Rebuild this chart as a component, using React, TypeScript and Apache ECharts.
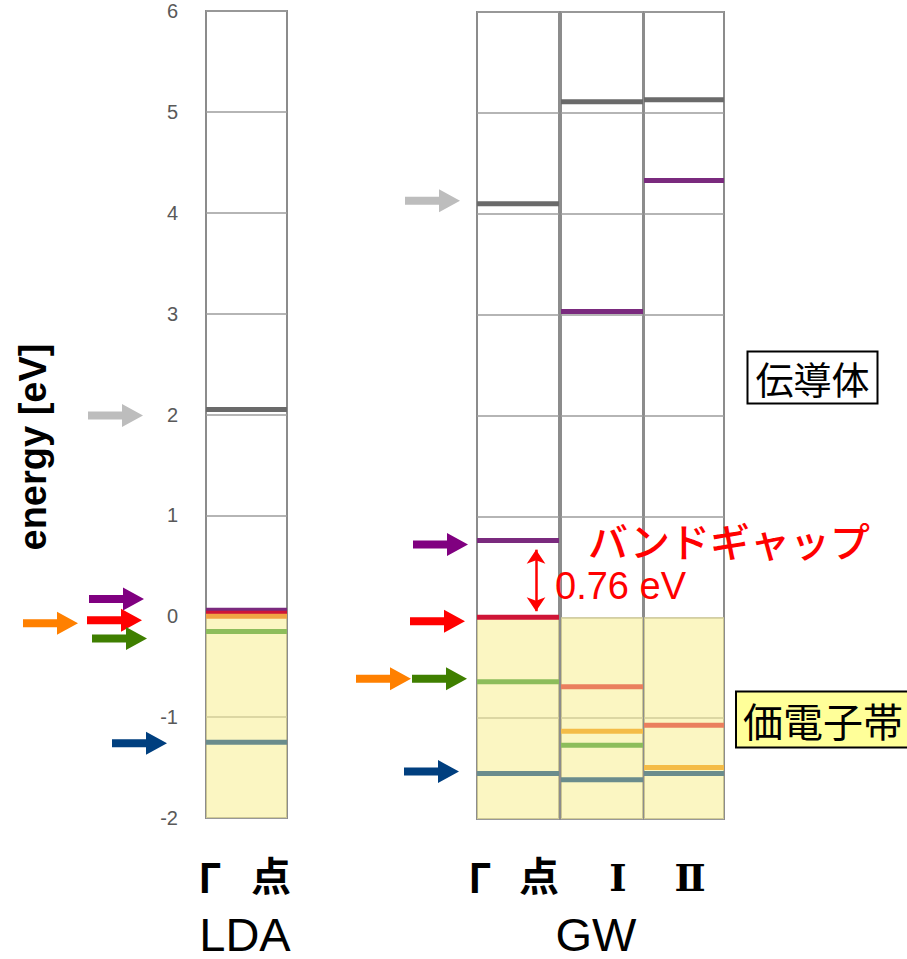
import React, { useEffect, useRef } from "react";
import * as echarts from "echarts";

// Energy axis (eV)
const ENERGY_MIN = -2;
const ENERGY_MAX = 6;
const ENERGY_STEP = 1;

// Levels at each k-point, energies in eV, with the band each belongs to
const ldaGammaEnergies = [2.05, 0.06, 0.03, 0.0, -0.15, -1.25];
const ldaGammaBands = ["gray", "purple", "red", "orange", "green", "slate"];

const gwGammaEnergies = [4.1, 0.76, 0.0, -0.64, -1.55];
const gwGammaBands = ["gray", "purple", "red", "green", "slate"];

const gwIEnergies = [5.11, 3.03, -0.69, -1.13, -1.27, -1.61];
const gwIBands = ["gray", "purple", "salmon", "amber", "green", "slate"];

const gwIIEnergies = [5.13, 4.33, -1.07, -1.49, -1.55];
const gwIIBands = ["gray", "purple", "salmon", "amber", "slate"];

// Valence band region
const valenceTop = 0;

// Pointer arrows: energy they sit at and band they mark
const ldaArrowEnergies = [1.99, 0.17, -0.04, -0.07, -0.22, -1.26];
const ldaArrowBands = ["gray", "purple", "red", "orange", "green", "slate"];
const gwArrowEnergies = [4.13, 0.72, -0.04, -0.61, -0.61, -1.53];
const gwArrowBands = ["gray", "purple", "red", "orange", "green", "slate"];

// Labels
const gammaSymbol = "Γ";
const pointSuffix = "点";
const pointNumerals = ["Ⅰ", "Ⅱ"];
const methodLabels = ["LDA", "GW"];
const gapTitle = "バンドギャップ";
const conductionLabel = "伝導体";
const valenceLabel = "価電子帯";
const axisTitle = "energy [eV]";

// ---- styling / layout ----
const LEVEL_COLORS: Record<string, string> = {
  gray: "#6a6a6a",
  purple: "#7a2a7e",
  red: "#cf1537",
  orange: "#f0a444",
  green: "#8dbd5b",
  slate: "#6a8c8c",
  salmon: "#ea7f5e",
  amber: "#f4bc47",
};
const ARROW_COLORS: Record<string, string> = {
  gray: "#bdbdbd",
  purple: "#800080",
  red: "#ff0000",
  orange: "#ff8000",
  green: "#3f7f00",
  slate: "#003f7f",
};
const ldaArrowTips = [143, 144, 142, 78, 147, 167];
const gwArrowTips = [460, 468, 465, 411, 467, 459];

const GRIDS = [
  { left: 206, top: 11, width: 81, height: 807 },
  { left: 477, top: 12, width: 82, height: 807 },
  { left: 561, top: 12, width: 82, height: 807 },
  { left: 644, top: 12, width: 80, height: 807 },
];

const CJK = '"Noto Sans CJK JP", sans-serif';
const LATIN = '"Liberation Sans", Arial, sans-serif';

function arrowPoints(tipX: number, y: number): number[][] {
  const len = 55;
  const head = 21;
  const headHalf = 11.5;
  const shaftHalf = 4;
  return [
    [tipX - len, y - shaftHalf],
    [tipX - head, y - shaftHalf],
    [tipX - head, y - headHalf],
    [tipX, y],
    [tipX - head, y + headHalf],
    [tipX - head, y + shaftHalf],
    [tipX - len, y + shaftHalf],
  ];
}

function levelSeries(gridIndex: number, energies: number[], bands: string[], extra: any = {}) {
  return {
    type: "custom",
    xAxisIndex: gridIndex,
    yAxisIndex: gridIndex,
    z: 3,
    data: energies.map((e) => [0.5, e]),
    renderItem: (params: any, api: any) => {
      const e = api.value(1);
      const p0 = api.coord([0, e]);
      const p1 = api.coord([1, e]);
      return {
        type: "line",
        shape: { x1: p0[0], y1: p0[1], x2: p1[0], y2: p1[1] },
        style: { stroke: LEVEL_COLORS[bands[params.dataIndex]], lineWidth: 5 },
      };
    },
    markArea: {
      silent: true,
      itemStyle: { color: "rgba(248,240,150,0.58)" },
      data: [[{ yAxis: valenceTop }, { yAxis: ENERGY_MIN }]],
    },
    ...extra,
  };
}

export default function App() {
  const ref = useRef<HTMLDivElement>(null);

  useEffect(() => {
    if (!ref.current) return;
    const chart = echarts.init(ref.current, null, { renderer: "svg" });

    const gap = gwGammaEnergies[1] - gwGammaEnergies[2];

    const option: any = {
      animation: false,
      backgroundColor: "#ffffff",
      grid: GRIDS.map((g) => ({
        ...g,
        show: true,
        borderColor: "#8c8c8c",
        borderWidth: 2,
        backgroundColor: "transparent",
      })),
      xAxis: GRIDS.map((_, i) => ({
        type: "value",
        gridIndex: i,
        min: 0,
        max: 1,
        show: false,
      })),
      yAxis: GRIDS.map((_, i) => ({
        type: "value",
        gridIndex: i,
        min: ENERGY_MIN,
        max: ENERGY_MAX,
        interval: ENERGY_STEP,
        axisLine: { show: false },
        axisTick: { show: false },
        axisLabel: {
          show: i === 0,
          color: "#595959",
          fontSize: 20,
          fontFamily: LATIN,
          margin: 28,
          padding: [6, 0, 0, 0],
        },
        splitLine: { show: true, lineStyle: { color: "#9c9c9c", width: 1.5 } },
      })),
      series: [
        levelSeries(0, ldaGammaEnergies, ldaGammaBands),
        levelSeries(1, gwGammaEnergies, gwGammaBands, {
          markLine: {
            silent: true,
            symbol: ["arrow", "arrow"],
            symbolSize: [14, 14],
            label: { show: false },
            lineStyle: { color: "#ff0000", width: 2.5, type: "solid" },
            data: [
              [
                { coord: [0.72, gwGammaEnergies[2] + 0.06] },
                { coord: [0.72, gwGammaEnergies[1] - 0.09] },
              ],
            ],
          },
        }),
        levelSeries(2, gwIEnergies, gwIBands),
        levelSeries(3, gwIIEnergies, gwIIBands),
      ],
    };
    chart.setOption(option);

    const graphic: any[] = [];
    const addArrows = (grid: number, energies: number[], bands: string[], tips: number[]) => {
      energies.forEach((e, k) => {
        const y = chart.convertToPixel({ gridIndex: grid } as any, [0, e])[1];
        graphic.push({
          type: "polygon",
          shape: { points: arrowPoints(tips[k], y) },
          style: { fill: ARROW_COLORS[bands[k]] },
          z: 10,
        });
      });
    };
    addArrows(0, ldaArrowEnergies, ldaArrowBands, ldaArrowTips);
    addArrows(1, gwArrowEnergies, gwArrowBands, gwArrowTips);

    const text = (t: string, x: number, y: number, font: string, extra: any = {}) => ({
      type: "text",
      x,
      y,
      z: 20,
      style: {
        text: t,
        font,
        fill: "#000",
        textAlign: "center",
        textVerticalAlign: "middle",
        ...extra,
      },
    });

    graphic.push({
      type: "text",
      x: 33,
      y: 447,
      rotation: Math.PI / 2,
      z: 20,
      style: {
        text: axisTitle,
        font: `bold 38px ${LATIN}`,
        fill: "#000",
        textAlign: "center",
        textVerticalAlign: "middle",
      },
    });

    // k-point labels under the columns
    graphic.push(text(gammaSymbol, 210, 876, `bold 40px ${CJK}`, { lineHeight: 40 }));
    graphic.push(text(pointSuffix, 271, 874, `bold 40px ${CJK}`, { lineHeight: 40 }));
    graphic.push(text(gammaSymbol, 480, 876, `bold 40px ${CJK}`, { lineHeight: 40 }));
    graphic.push(text(pointSuffix, 539, 874, `bold 40px ${CJK}`, { lineHeight: 40 }));
    graphic.push(text(pointNumerals[0], 618, 878, `bold 37px "DejaVu Serif", serif`, { lineHeight: 37 }));
    graphic.push(text(pointNumerals[1], 690, 878, `bold 37px "DejaVu Serif", serif`, { lineHeight: 37 }));
    graphic.push(text(methodLabels[0], 245, 934, `47px ${LATIN}`, { lineHeight: 47 }));
    graphic.push(text(methodLabels[1], 596, 934, `47px ${LATIN}`, { lineHeight: 47 }));

    graphic.push(
      text(gapTitle, 588, 540, `500 40px ${CJK}`, { fill: "#ff0000", textAlign: "left", lineHeight: 40 })
    );
    graphic.push(
      text(`${gap.toFixed(2)} eV`, 555, 586, `38px ${LATIN}`, {
        fill: "#ff0000",
        textAlign: "left",
        lineHeight: 38,
      })
    );

    graphic.push(
      text(conductionLabel, 812.5, 377.5, `38px ${CJK}`, {
        backgroundColor: "#ffffff",
        borderColor: "#000000",
        borderWidth: 2,
        padding: [3, 7, 3, 7],
        lineHeight: 44,
      })
    );
    graphic.push(
      text(valenceLabel, 737, 719.5, `40px ${CJK}`, {
        textAlign: "left",
        backgroundColor: "#ffff99",
        borderColor: "#000000",
        borderWidth: 2,
        padding: [4, 6, 4, 6],
        lineHeight: 46,
      })
    );

    chart.setOption({ graphic });

    return () => chart.dispose();
  }, []);

  return (
    <div
      ref={ref}
      style={{ position: "absolute", left: 0, top: 0, width: 907, height: 959 }}
    />
  );
}
